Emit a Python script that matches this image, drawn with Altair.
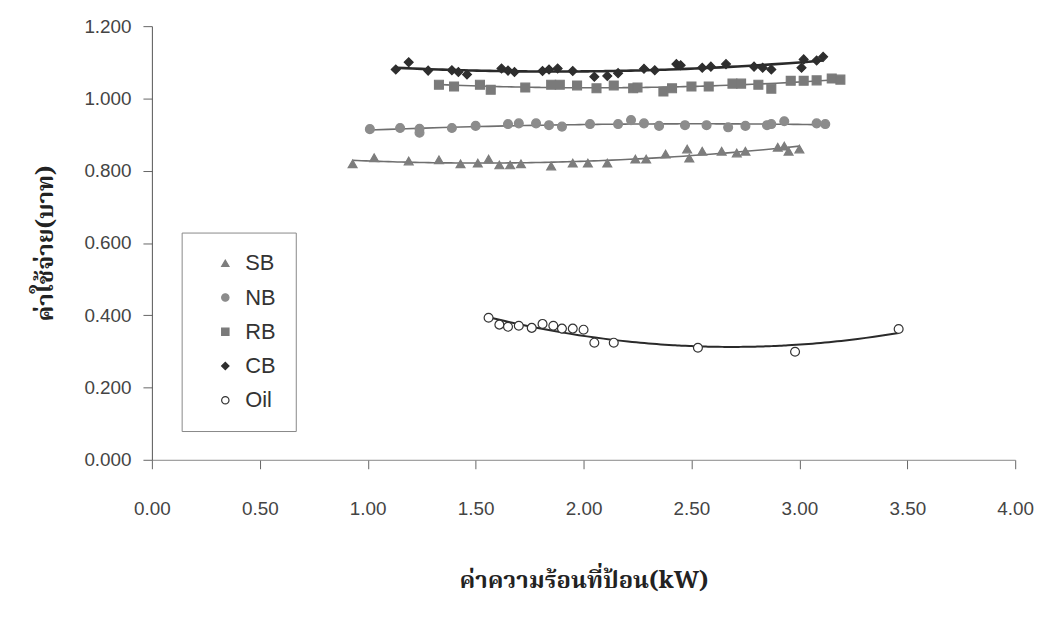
import altair as alt
import pandas as pd

# ---- data ----
sb_x = [0.93, 1.03, 1.19, 1.33, 1.43, 1.51, 1.56, 1.61, 1.66, 1.71, 1.85, 1.95, 2.02, 2.11, 2.24, 2.29,
        2.38, 2.48, 2.49, 2.55, 2.64, 2.71, 2.75, 2.90, 2.93, 2.95, 3.00]
sb_y = [0.819, 0.836, 0.827, 0.830, 0.819, 0.821, 0.832, 0.816, 0.816, 0.819, 0.813, 0.821, 0.821, 0.821,
        0.832, 0.832, 0.846, 0.860, 0.835, 0.854, 0.854, 0.849, 0.854, 0.865, 0.868, 0.854, 0.860]

nb_x = [1.01, 1.15, 1.24, 1.24, 1.39, 1.50, 1.65, 1.70, 1.78, 1.84, 1.90, 2.03, 2.16, 2.22, 2.28, 2.35,
        2.47, 2.57, 2.67, 2.75, 2.85, 2.87, 2.93, 3.08, 3.12]
nb_y = [0.915, 0.918, 0.916, 0.905, 0.918, 0.924, 0.929, 0.931, 0.931, 0.926, 0.922, 0.929, 0.929, 0.940,
        0.931, 0.924, 0.926, 0.926, 0.920, 0.924, 0.926, 0.929, 0.937, 0.931, 0.929]

rb_x = [1.33, 1.40, 1.52, 1.57, 1.73, 1.85, 1.89, 1.97, 2.06, 2.14, 2.23, 2.25, 2.37, 2.41, 2.50, 2.58,
        2.69, 2.73, 2.81, 2.87, 2.96, 3.02, 3.08, 3.15, 3.19]
rb_y = [1.038, 1.033, 1.038, 1.024, 1.030, 1.038, 1.038, 1.036, 1.028, 1.036, 1.028, 1.030, 1.019, 1.028,
        1.033, 1.033, 1.041, 1.041, 1.038, 1.027, 1.049, 1.049, 1.050, 1.055, 1.052]

cb_x = [1.13, 1.19, 1.28, 1.39, 1.42, 1.46, 1.62, 1.65, 1.68, 1.81, 1.84, 1.88, 1.95, 2.05, 2.11, 2.16,
        2.28, 2.33, 2.43, 2.45, 2.55, 2.59, 2.66, 2.79, 2.83, 2.87, 3.02, 3.01, 3.08, 3.11]
cb_y = [1.080, 1.100, 1.077, 1.078, 1.073, 1.066, 1.083, 1.077, 1.073, 1.076, 1.080, 1.083, 1.076, 1.060,
        1.062, 1.070, 1.082, 1.078, 1.095, 1.092, 1.085, 1.088, 1.095, 1.088, 1.085, 1.080, 1.108, 1.085,
        1.105, 1.115]

oil_x = [1.56, 1.61, 1.65, 1.70, 1.76, 1.81, 1.86, 1.90, 1.95, 2.00, 2.05, 2.14, 2.53, 2.98, 3.46]
oil_y = [0.393, 0.374, 0.368, 0.371, 0.365, 0.376, 0.371, 0.363, 0.363, 0.360, 0.324, 0.324, 0.310, 0.299,
         0.362]

series_names = ["SB", "NB", "RB", "CB", "Oil"]
x_ticks = [0.0, 0.5, 1.0, 1.5, 2.0, 2.5, 3.0, 3.5, 4.0]
y_ticks = [0.0, 0.2, 0.4, 0.6, 0.8, 1.0, 1.2]

rows = []
for name, xs, ys in zip(series_names, [sb_x, nb_x, rb_x, cb_x, oil_x], [sb_y, nb_y, rb_y, cb_y, oil_y]):
    for a, b in zip(xs, ys):
        rows.append({"series": name, "x": a, "y": b})
df = pd.DataFrame(rows)

LABEL_FONT = "Liberation Sans, Arial, sans-serif"
THAI_FONT = "Noto Serif Thai, Norasi, Kinnari, Tlwg Typo, Noto Sans Thai, Garuda, serif"

xscale = alt.Scale(domain=[0, 4], nice=False, zero=False)
yscale = alt.Scale(domain=[0, 1.2], nice=False)

x_axis = alt.Axis(values=x_ticks, format=".2f", grid=False, tickSize=9, labelPadding=31,
                  labelFlush=False, labelOverlap=False,
                  labelFontSize=19, labelFont=LABEL_FONT, labelColor="#444",
                  domainColor="#888", tickColor="#666",
                  title="ค่าความร้อนที่ป้อน(kW)", titleFont=THAI_FONT, titleFontSize=24,
                  titleFontWeight="bold", titleColor="#222",
                  titleX=435, titleY=122, titleBaseline="middle", titleAlign="center")
y_axis = alt.Axis(values=y_ticks, format=".3f", grid=False, tickSize=9, labelPadding=12,
                  labelFlush=False, labelOverlap=False,
                  labelFontSize=19, labelFont=LABEL_FONT, labelColor="#444",
                  domainColor="#555", tickColor="#666",
                  title="ค่าใช้จ่าย(บาท)", titleFont=THAI_FONT, titleFontSize=24,
                  titleFontWeight="bold", titleColor="#222",
                  titleX=-107, titleY=218.5, titleBaseline="middle", titleAlign="center", titleAngle=270)

shape_scale = alt.Scale(domain=series_names,
                        range=["triangle-up", "circle", "square", "diamond", "circle"])
fill_scale = alt.Scale(domain=series_names,
                       range=["#7d7d7d", "#8c8c8c", "#7a7a7a", "#2e2e2e", "#ffffff"])
stroke_scale = alt.Scale(domain=series_names,
                         range=["#7d7d7d", "#8c8c8c", "#7a7a7a", "#2e2e2e", "#333333"])

legend = alt.Legend(title=None, orient="none", legendX=30, legendY=208,
                    labelFont=LABEL_FONT, labelFontSize=22, labelColor="#333",
                    symbolSize=55, symbolStrokeWidth=1.2, rowPadding=12.5, padding=20,
                    symbolOffset=13, labelOffset=9, strokeColor="#888", fillColor="white")

base = alt.Chart(df)

gray_lines = base.transform_filter(
    alt.FieldOneOfPredicate(field="series", oneOf=["SB", "NB", "RB"])
).transform_regression(
    "x", "y", groupby=["series"], method="poly", order=2
).mark_line(strokeWidth=1.6, color="#6f6f6f").encode(
    x=alt.X("x:Q", scale=xscale, axis=x_axis),
    y=alt.Y("y:Q", scale=yscale, axis=y_axis),
    detail="series:N",
)

cb_line = base.transform_filter(
    alt.datum.series == "CB"
).transform_regression(
    "x", "y", method="poly", order=2
).mark_line(strokeWidth=2.6, color="#2a2a2a").encode(
    x=alt.X("x:Q", scale=xscale),
    y=alt.Y("y:Q", scale=yscale),
)

oil_line = base.transform_filter(
    alt.datum.series == "Oil"
).transform_regression(
    "x", "y", method="poly", order=2
).mark_line(strokeWidth=2.0, color="#2a2a2a").encode(
    x=alt.X("x:Q", scale=xscale),
    y=alt.Y("y:Q", scale=yscale),
)

points = base.mark_point(size=80, strokeWidth=1.2, opacity=1).encode(
    x=alt.X("x:Q", scale=xscale),
    y=alt.Y("y:Q", scale=yscale),
    shape=alt.Shape("series:N", scale=shape_scale, legend=legend),
    fill=alt.Fill("series:N", scale=fill_scale, legend=legend),
    stroke=alt.Stroke("series:N", scale=stroke_scale, legend=legend),
)

chart = alt.layer(gray_lines, cb_line, oil_line, points).properties(
    width=870, height=437,
    background="white",
    autosize=alt.AutoSizeParams(type="none"),
    padding={"left": 145, "top": 16, "right": 26, "bottom": 140},
).configure_view(stroke=None)

chart.save("out.html", embed_options={"renderer": "svg", "actions": False})
